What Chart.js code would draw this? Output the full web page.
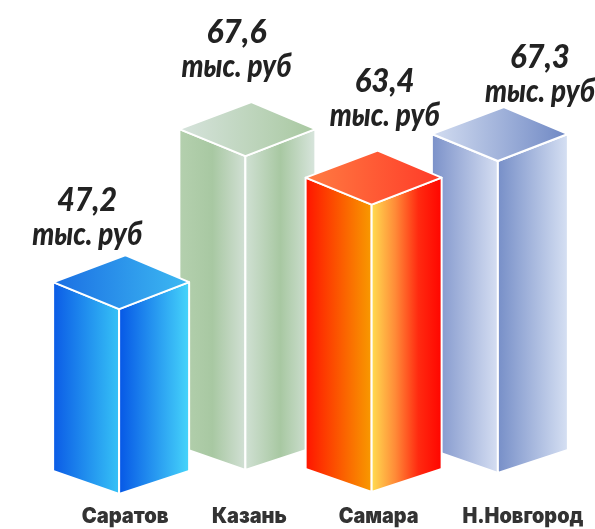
<!DOCTYPE html>
<html lang="ru">
<head>
    <meta charset="UTF-8">
    <title>Зарплаты</title>
    <script src="https://cdn.jsdelivr.net/npm/chart.js@4/dist/chart.umd.min.js"></script>
    <style>
        * { margin: 0; padding: 0; box-sizing: border-box; }
        body { background: #fff; width: 595px; height: 529px; overflow: hidden; }
        .chart-box { position: relative; width: 595px; height: 529px; }
    </style>
</head>
<body>
    <div class="chart-box">
        <canvas id="salaryChart"></canvas>
    </div>

    <script>
        // data
        const categories = ['Саратов', 'Казань', 'Самара', 'Н.Новгород'];
        const salaries = [47.2, 67.6, 63.4, 67.3];
        const unitLabel = 'тыс. руб';

        // layout / look of the 3d boxes
        const drawOrder = [1, 3, 0, 2];           // back row first
        const shiftY = [-6, -30, -8, -27];        // depth stagger of each box
        const labelDx = [-32, -9, 13, 42];
        const labelUp = [64, 79, 79, 59];
        const catDx = [6, 4, 7, 25];
        const catWidth = [87, 75, 80, 121];

        const faceColors = [
            { left: ['#0b5be6', '#36c2f6'], right: ['#0657e6', '#46d5fa'], top: ['#1a6ee3', '#3dbaf2'] },
            { left: ['#b4d0ae', '#a8c8a2', '#d2e0d5'], right: ['#d0e0d3', '#a8c8a2', '#d8e5dd'], top: ['#d6e3dc', '#a8c8a0'] },
            { left: ['#ff1400', '#f89a00'], right: ['#ffdc50', '#ff8c38', '#ff2a10', '#ff0500'], top: ['#ff7c42', '#ff3a28'] },
            { left: ['#7b91c9', '#d5def2'], right: ['#778fc8', '#d6e0f3'], top: ['#d3ddf1', '#6f88c4'] }
        ];

        function grad(ctx, x0, x1, stops) {
            const g = ctx.createLinearGradient(x0, 0, x1, 0);
            stops.forEach((c, i) => g.addColorStop(i / (stops.length - 1), c));
            return g;
        }

        function poly(ctx, pts, fill) {
            ctx.beginPath();
            ctx.moveTo(pts[0][0], pts[0][1]);
            for (let i = 1; i < pts.length; i++) ctx.lineTo(pts[i][0], pts[i][1]);
            ctx.closePath();
            ctx.fillStyle = fill;
            ctx.fill();
            ctx.stroke();
        }

        // squeezed text, like a condensed display face
        function narrowText(ctx, txt, x, y, w) {
            const sx = Math.min(1, w / ctx.measureText(txt).width);
            ctx.save();
            ctx.translate(x, y);
            ctx.scale(sx, 1);
            ctx.fillText(txt, 0, 0);
            ctx.restore();
        }

        const boxes3d = {
            id: 'boxes3d',
            afterDatasetsDraw(chart) {
                const ctx = chart.ctx;
                const meta = chart.getDatasetMeta(0);
                const yScale = chart.scales.y;
                const basePx = yScale.getPixelForValue(yScale.min);
                ctx.save();
                ctx.strokeStyle = '#ffffff';
                ctx.lineWidth = 2;
                ctx.lineJoin = 'round';
                drawOrder.forEach(i => {
                    const el = meta.data[i];
                    const f = el.x;
                    const l = f - 66, r = f + 70, b = f + 6;
                    const top = el.y + shiftY[i];
                    const base = basePx + shiftY[i];
                    const dT = 27, dB = 23;
                    const c = faceColors[i];
                    poly(ctx, [[l, top - dT], [f, top], [f, base], [l, base - dB]], grad(ctx, l, f, c.left));
                    poly(ctx, [[f, top], [r, top - dT], [r, base - dB], [f, base]], grad(ctx, f, r, c.right));
                    poly(ctx, [[l, top - dT], [b, top - 2 * dT], [r, top - dT], [f, top]], grad(ctx, l, r, c.top));
                });

                // value labels
                ctx.fillStyle = '#222222';
                ctx.textAlign = 'center';
                ctx.textBaseline = 'alphabetic';
                ctx.font = 'italic 900 33px Lato, "DejaVu Sans", sans-serif';
                meta.data.forEach((el, i) => {
                    const x = el.x + labelDx[i];
                    const y2 = el.y + shiftY[i] - labelUp[i];
                    const txt = salaries[i].toFixed(1).replace('.', ',');
                    narrowText(ctx, txt, x, y2 - 34, 60);
                    narrowText(ctx, unitLabel, x, y2, 110);
                });

                // category names
                ctx.fillStyle = '#333333';
                ctx.font = '900 21px Inter, Lato, "DejaVu Sans", sans-serif';
                meta.data.forEach((el, i) => {
                    narrowText(ctx, chart.data.labels[i], el.x + catDx[i], 523, catWidth[i]);
                });
                ctx.restore();
            }
        };

        new Chart(document.getElementById('salaryChart'), {
            type: 'bar',
            data: {
                labels: categories,
                datasets: [{
                    data: salaries,
                    backgroundColor: 'rgba(0,0,0,0)',
                    borderWidth: 0,
                    barPercentage: 1,
                    categoryPercentage: 1
                }]
            },
            options: {
                responsive: true,
                maintainAspectRatio: false,
                animation: false,
                layout: { padding: { left: 56, right: 34, top: 0, bottom: 29 } },
                plugins: { legend: { display: false }, tooltip: { enabled: false } },
                scales: {
                    x: { display: false },
                    y: { display: false, min: 18, max: 97 }
                }
            },
            plugins: [boxes3d]
        });
    </script>
</body>
</html>
